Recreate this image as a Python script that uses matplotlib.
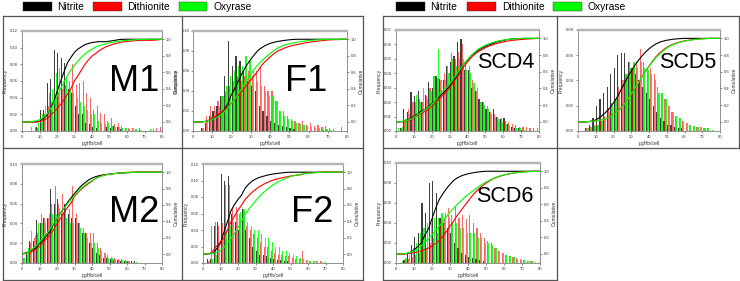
import numpy as np
import matplotlib
matplotlib.use("Agg")
import matplotlib.pyplot as plt
from matplotlib.patches import Rectangle
from matplotlib.lines import Line2D

plt.rcParams['font.family'] = ['Liberation Sans', 'DejaVu Sans']

W, H = 740, 281

# ---------------- data (frequency per 2-unit pgHb/cell bin, centres 1..79) -------------
bin_centers = np.arange(1, 80, 2)
series_names = ["Nitrite", "Dithionite", "Oxyrase"]
x_label = "pgHb/cell"
y_label = "Frequency"
y2_label = "Cumulative"

M1_nitrite = [0, 0, 0, 0, .005, .025, .025, .058, .062, .097, .093, .088, .082, .050, .045, .030, .020, .020, .010, .008,
              .005, .003, 0, 0, .005, .004, .006, .005, .002]
M1_dithionite = [0, 0, 0, 0, .003, .010, .020, .030, .035, .040, .045, .050, .055, .060, .080, .055, .058, .060, .045, .040,
                 .025, .030, .022, .020, .012, .015, .008, .010, .006, .004, .003, .004, .002, .003, 0, 0, 0, .002, .004, .005]
M1_oxyrase = [0, 0, .005, .005, .010, .020, .030, .045, .050, .070, .075, .060, .065, .050, .045, .040, .035, .030, .025, .020,
              .020, .012, .010, .008, .010, .006, .005, .005, .004, .003, .002, .003, .002, .001, 0, 0, .002]

F1_nitrite = [0, 0, .003, .008, .015, .020, .025, .035, .055, .090, .065, .075, .070, .060, .050, .045, .040, .025, .020, .015,
              .010, .008, .006, .005, .004, .003, .002]
F1_dithionite = [0, 0, .003, .015, .025, .025, .030, .035, .040, .045, .050, .055, .050, .055, .060, .055, .060, .065, .045, .040,
                 .040, .030, .020, .020, .015, .012, .010, .008, .010, .006, .008, .005, .006, .004, .005, .003, .002, 0, .004]
F1_oxyrase = [0, 0, .003, .010, .015, .020, .025, .035, .045, .055, .060, .065, .065, .075, .070, .060, .050, .045, .040, .035,
              .035, .030, .020, .015, .012, .010, .008, .007, .006, .005, .004, .003, .003, .002, .002, .001]

M2_nitrite = [.012, .010, .022, .022, .043, .040, .045, .045, .075, .060, .065, .050, .060, .050, .045, .045, .040, .030, .030, .020,
              .015, .010, .008, .005, .005, .004, .003, .003, .002, .002, .002, .002, .002]
M2_dithionite = [.005, .008, .020, .025, .030, .050, .045, .045, .060, .078, .060, .070, .060, .055, .078, .050, .040, .035, .030, .030,
                 .030, .020, .015, .010, .008, .006, .005, .004, .004, .003, .002]
M2_oxyrase = [.005, .015, .032, .028, .040, .040, .040, .050, .050, .050, .055, .050, .045, .040, .040, .040, .035, .030, .025, .020,
              .020, .015, .012, .010, .005, .005, .004, .003, .003, .002, .002, .001, .001]

F2_nitrite = [0, .005, .005, .045, .050, .108, .100, .105, .060, .050, .040, .065, .040, .030, .020, .015, .010, .010, .008, .006,
              .005, .004, .004, .003, .002]
F2_dithionite = [0, .003, .045, .050, .045, .048, .095, .094, .068, .068, .060, .065, .045, .040, .035, .030, .025, .020, .020, .015,
                 .012, .010, .010, .008, .008, .006, .005, .005, .015, .004, .003, .003, .003, .002]
F2_oxyrase = [0, .002, .005, .010, .020, .030, .040, .045, .050, .060, .062, .065, .050, .045, .040, .040, .035, .030, .030, .025,
              .020, .020, .015, .015, .012, .010, .008, .006, .005, .004, .003, .003, .002, .002, .001]

SCD4_nitrite = [0, .002, .015, .013, .027, .024, .028, .020, .025, .034, .030, .038, .036, .035, .045, .048, .052, .062, .064, .042,
                .042, .030, .028, .022, .020, .015, .013, .015, .010, .008, .009, .005, .003, .002, .002, .001]
SCD4_dithionite = [0, .002, .007, .015, .020, .020, .022, .020, .024, .030, .038, .037, .035, .040, .045, .054, .050, .055, .060, .048,
                   .045, .035, .028, .020, .020, .017, .013, .012, .010, .009, .007, .006, .005, .004, .003, .003, .003, .002, .002, .002]
SCD4_oxyrase = [.002, .003, .008, .012, .020, .025, .020, .030, .022, .028, .038, .057, .035, .035, .040, .050, .045, .050, .050, .042,
                .040, .033, .030, .020, .018, .015, .012, .010, .008, .006, .005, .004, .003, .002, .002, .001]

SCD5_nitrite = [0, 0, .002, .005, .010, .020, .025, .030, .035, .045, .050, .060, .062, .062, .055, .050, .045, .040, .035, .030,
                .025, .020, .015, .010, .008, .005, .005, .003, .002, .002]
SCD5_dithionite = [0, 0, .002, .003, .005, .005, .008, .012, .018, .022, .025, .035, .040, .045, .055, .050, .055, .065, .055, .050,
                   .050, .045, .035, .030, .025, .020, .015, .012, .010, .008, .006, .005, .004, .003, .003, .002, .002]
SCD5_oxyrase = [0, 0, .002, .003, .004, .005, .008, .010, .015, .020, .025, .030, .040, .045, .050, .055, .050, .055, .050, .048,
                .045, .040, .030, .030, .025, .020, .015, .012, .010, .008, .006, .005, .004, .003, .003, .002, .002, .001]

SCD6_nitrite = [0, 0, .003, .010, .018, .026, .030, .060, .050, .080, .082, .070, .045, .040, .035, .030, .020, .015, .010, .008,
                .006, .005, .004, .003, .002]
SCD6_dithionite = [0, 0, .002, .004, .006, .008, .010, .012, .015, .020, .025, .030, .040, .045, .055, .048, .056, .045, .048, .044,
                   .048, .040, .035, .030, .025, .022, .020, .015, .012, .010, .008, .007, .006, .005, .004, .003, .002, .002]
SCD6_oxyrase = [0, .002, .005, .008, .015, .020, .030, .035, .040, .040, .045, .045, .050, .050, .045, .040, .040, .035, .035, .030,
                .030, .030, .025, .025, .020, .020, .018, .015, .012, .010, .008, .007, .006, .004, .003, .003, .002, .002, .001, .001]

# ---------------- layout (pixel boxes) ----------------
colors = ["black", "#ff0000", "#00ff00"]
alphas = [0.75, 0.6, 0.85]
offsets = [-0.6, 0.0, 0.6]

panels = [
    # name, series, ymax, ystep, (x0, y0, x1, y1) axes px, label centre px, label size
    ("M1", (M1_nitrite, M1_dithionite, M1_oxyrase), 0.12, 0.02, (22, 31, 162, 131), (134, 82), 26),
    ("F1", (F1_nitrite, F1_dithionite, F1_oxyrase), 0.10, 0.02, (193, 31, 347, 131), (306, 82), 26),
    ("M2", (M2_nitrite, M2_dithionite, M2_oxyrase), 0.10, 0.02, (22, 164, 162, 263), (134, 212), 26),
    ("F2", (F2_nitrite, F2_dithionite, F2_oxyrase), 0.12, 0.02, (203, 164, 343, 263), (312, 212), 26),
    ("SCD4", (SCD4_nitrite, SCD4_dithionite, SCD4_oxyrase), 0.07, 0.01, (396, 30, 539, 131), (506, 62), 15.5),
    ("SCD5", (SCD5_nitrite, SCD5_dithionite, SCD5_oxyrase), 0.08, 0.02, (578, 30, 720, 131), (688, 62), 15.5),
    ("SCD6", (SCD6_nitrite, SCD6_dithionite, SCD6_oxyrase), 0.10, 0.02, (396, 163, 540, 263), (505, 196), 15.5),
]


def pad(values):
    arr = np.zeros(len(bin_centers))
    arr[:len(values)] = values
    return arr


fig = plt.figure(figsize=(W / 100, H / 100), dpi=100)
fig.patch.set_facecolor("white")

tick_fs = 3.0
spine_col = "#8a8a8a"

for name, series, ymax, ystep, (x0, y0, x1, y1), (lx, ly), lsize in panels:
    ax = fig.add_axes([x0 / W, 1 - y1 / H, (x1 - x0) / W, (y1 - y0) / H])
    for vals, col, a, off in zip(series, colors, alphas, offsets):
        ax.bar(bin_centers + off, pad(vals), width=0.68, color=col, alpha=a, linewidth=0, zorder=2)
    ax.set_xlim(0, 80)
    ax.set_ylim(0, ymax)
    ax.set_xticks(np.arange(0, 81, 10))
    ax.set_yticks(np.arange(0, ymax + 1e-9, ystep))
    ax.yaxis.set_major_formatter(matplotlib.ticker.FormatStrFormatter('%.2f'))
    ax.tick_params(labelsize=tick_fs, length=1.2, width=0.4, pad=1.5, colors="#333333")
    ax.set_xlabel(x_label, fontsize=3.6, labelpad=1.5, color="#333333")
    ax.set_ylabel(y_label, fontsize=3.6, labelpad=2, color="#333333")
    for s in ax.spines.values():
        s.set_color(spine_col)
        s.set_linewidth(0.5)
    ax.spines["top"].set_linewidth(1.6)
    ax.spines["top"].set_color("#b5b5b5")

    ax2 = ax.twinx()
    edges = np.arange(0, 81, 2)
    for vals, col in zip(series, colors):
        v = pad(vals)
        cum = np.concatenate([[0.0], np.cumsum(v) / v.sum()])
        ax2.plot(edges, cum, color=col, lw=0.8, zorder=3)
    ax2.set_ylim(-0.11, 1.1)
    ax2.set_yticks(np.arange(0, 1.01, 0.2))
    ax2.yaxis.set_major_formatter(matplotlib.ticker.FormatStrFormatter('%.1f'))
    ax2.tick_params(labelsize=tick_fs, length=1.2, width=0.4, pad=1.5, colors="#333333")
    ax2.set_ylabel(y2_label, fontsize=3.6, labelpad=2, color="#333333")
    for s in ax2.spines.values():
        s.set_color(spine_col)
        s.set_linewidth(0.5)
    ax2.spines["top"].set_linewidth(1.6)
    ax2.spines["top"].set_color("#b5b5b5")

    fig.text(lx / W, 1 - ly / H, name, fontsize=lsize, ha="center", va="center", color="black")

# ---------------- frames ----------------
frame_col = "#555555"


def hline(x0, x1, y):
    fig.add_artist(Line2D([x0 / W, x1 / W], [1 - y / H, 1 - y / H], transform=fig.transFigure, color=frame_col, lw=0.9))


def vline(x, y0, y1):
    fig.add_artist(Line2D([x / W, x / W], [1 - y0 / H, 1 - y1 / H], transform=fig.transFigure, color=frame_col, lw=0.9))


# left group
hline(3, 363, 15.5)
hline(3, 363, 148)
hline(3, 363, 280)
vline(3, 15.5, 280)
vline(182, 15.5, 280)
vline(363, 15.5, 280)
# right group
hline(383, 739, 15.5)
hline(383, 739, 148)
hline(383, 557, 280)
vline(383, 15.5, 280)
vline(557, 15.5, 280)
vline(739, 15.5, 148)

# ---------------- legends ----------------
legend_sets = [
    [(23, 52, 57), (93, 122, 127), (179, 207, 213)],
    [(396, 425, 430), (467, 496, 502), (553, 582, 588)],
]
for entries in legend_sets:
    for (px0, px1, tx), col, lab in zip(entries, colors, series_names):
        fig.add_artist(Rectangle((px0 / W, 1 - 11 / H), (px1 - px0) / W, 9 / H,
                                 transform=fig.transFigure, facecolor=col, edgecolor="#333333", lw=0.3))
        fig.text(tx / W, 1 - 6.8 / H, lab, fontsize=7.4, ha="left", va="center", color="black")

fig.savefig("out.png", dpi=100, facecolor="white")
